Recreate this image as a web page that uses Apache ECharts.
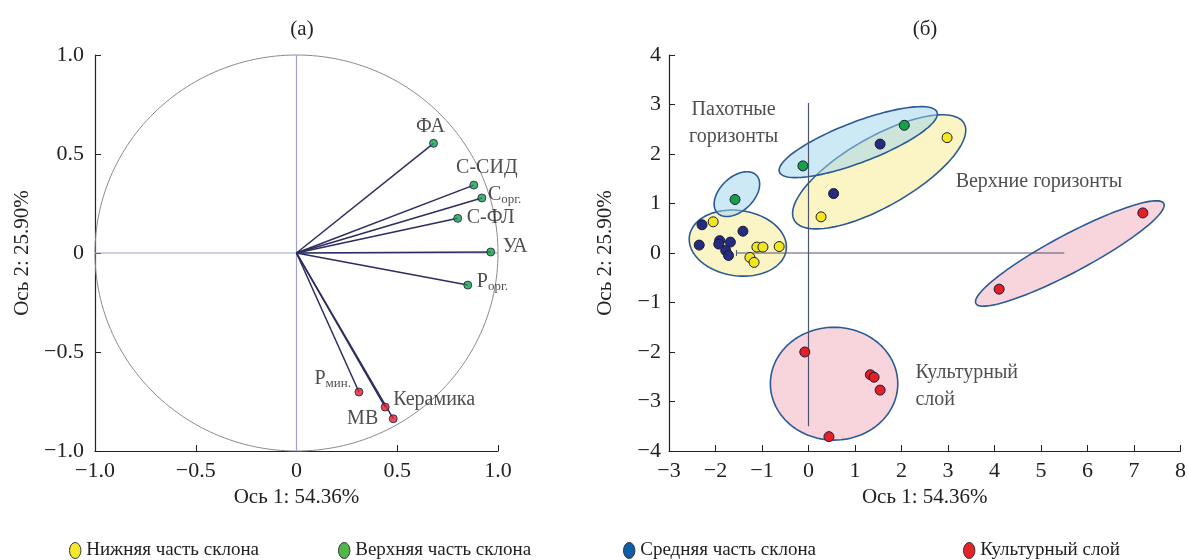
<!DOCTYPE html>
<html><head><meta charset="utf-8">
<script src="https://cdn.jsdelivr.net/npm/echarts@6/dist/echarts.min.js"></script>
<style>html,body{margin:0;padding:0;background:#fff}#c{width:1189px;height:560px}</style>
</head><body><div id="c"></div>
<script>
// ---------- (а) loadings ----------
const loadingNames = ['ФА', 'С-СИД', 'С{s|орг.}', 'С-ФЛ', 'УА', 'Р{s|орг.}', 'Р{s|мин.}', 'Керамика', 'МВ'];
const loadingX = [0.68, 0.88, 0.92, 0.80, 0.964, 0.85, 0.31, 0.44, 0.48];
const loadingY = [0.554, 0.343, 0.278, 0.175, 0.005, -0.162, -0.702, -0.778, -0.837];
const loadingKind = ['g', 'g', 'g', 'g', 'g', 'g', 'r', 'r', 'r'];
const ticksA = [-1.0, -0.5, 0, 0.5, 1.0];

// ---------- (б) scores ----------
const groupNames = ['Нижняя часть склона', 'Верхняя часть склона', 'Средняя часть склона', 'Культурный слой'];
const lowerX = [-2.05, -1.11, -0.98, -0.63, -1.26, -1.17, 2.98, 0.27];
const lowerY = [0.63, 0.12, 0.12, 0.13, -0.09, -0.19, 2.33, 0.73];
const upperX = [-1.58, -0.12, 2.06];
const upperY = [1.08, 1.76, 2.58];
const middleX = [-2.29, -2.35, -1.91, -1.93, -1.68, -1.78, -1.72, -1.41, 1.54, 0.54];
const middleY = [0.57, 0.16, 0.25, 0.18, 0.22, 0.05, -0.05, 0.44, 2.20, 1.20];
const cultX = [7.19, 4.10, -0.08, 1.33, 1.41, 1.54, 0.44];
const cultY = [0.81, -0.73, -2.00, -2.46, -2.51, -2.77, -3.71];

// ellipses: centre, major half-vector, minor half-length (data units)
const ellCX = [-1.52, -1.54, 1.52, 1.07, 5.62, 0.55];
const ellCY = [0.20, 1.19, 1.64, 2.24, -0.01, -2.64];
const ellUX = [1.04, 0.42, 1.825, 1.694, 2.02, 1.37];
const ellUY = [-0.14, 0.38, 0.98, 0.606, 1.01, 0.0];
const ellB  = [0.66, 0.34, 0.70, 0.41, 0.38, 1.14];
const ellKind = ['y', 'b', 'y', 'b', 'p', 'p'];

const crossV = [[0, -3.5], [0, 3.03]];
const crossH = [[-1.55, 0], [5.5, 0]];

const noteText = ['Пахотные\nгоризонты', 'Верхние горизонты', 'Культурный\nслой'];
const noteX = [-1.61, 5.10, 2.30];
const noteY = [2.63, 1.43, -2.70];
const ticksBX = [-3, -2, -1, 0, 1, 2, 3, 4, 5, 6, 7, 8];
const ticksBY = [-4, -3, -2, -1, 0, 1, 2, 3, 4];

// ---------- styles ----------
const FONT = 'Liberation Serif';
const loadLabelStyle = [
  {align: 'center', off: [-3, -17]},
  {align: 'center', off: [13, -17]},
  {align: 'left', off: [6, -3]},
  {align: 'left', off: [9, -1]},
  {align: 'left', off: [12, -5]},
  {align: 'left', off: [9, -3]},
  {align: 'right', off: [-8, -13]},
  {align: 'left', off: [8, -7]},
  {align: 'right', off: [-15, 0]}
];
const ellFill = {y: 'rgba(248,236,140,0.5)', b: 'rgba(158,212,238,0.5)', p: 'rgba(241,170,187,0.5)'};
const ptColor = ['#f2e71c', '#15a04a', '#262b82', '#e3202a'];
const legColor = ['#f3e92a', '#52b748', '#0b5fa8', '#e52228'];
const legLeft = [64, 333, 618, 958];

const minusFmt = (d) => (v) => v === 0 ? '0' : (v < 0 ? '\u2212' : '') + Math.abs(v).toFixed(d);

const chart = echarts.init(document.getElementById('c'));

const axisCommon = {
  axisLine: {show: true, onZero: false, lineStyle: {color: '#222', width: 1.2}},
  axisTick: {show: true, inside: true, length: 6, lineStyle: {color: '#222'}},
  splitLine: {show: false},
  axisLabel: {fontFamily: FONT, fontSize: 22, color: '#222'},
  nameTextStyle: {fontFamily: FONT, fontSize: 21, color: '#222'},
  nameLocation: 'middle'
};

const rich = {s: {fontFamily: FONT, fontSize: 13, color: '#222', verticalAlign: 'bottom', padding: [9, 0, 0, 0]}};

function ellipseRender(params, api) {
  const i = params.dataIndex;
  const c = api.coord([ellCX[i], ellCY[i]]);
  const e = api.coord([ellCX[i] + ellUX[i], ellCY[i] + ellUY[i]]);
  const mx = e[0] - c[0], my = e[1] - c[1];
  const L = Math.hypot(mx, my);
  const nx = -my / L, ny = mx / L;
  const b = api.size([0, ellB[i]])[1];
  const pts = [];
  for (let k = 0; k < 120; k++) {
    const t = k / 120 * Math.PI * 2;
    pts.push([c[0] + Math.cos(t) * mx + Math.sin(t) * b * nx, c[1] + Math.cos(t) * my + Math.sin(t) * b * ny]);
  }
  return {type: 'polygon', shape: {points: pts}, style: {fill: ellFill[ellKind[i]], stroke: '#2b5a94', lineWidth: 1.6}};
}

function circleRender(params, api) {
  const pts = [];
  for (let k = 0; k < 240; k++) {
    const t = k / 240 * Math.PI * 2;
    pts.push(api.coord([Math.cos(t), Math.sin(t)]));
  }
  return {type: 'polygon', shape: {points: pts}, style: {fill: 'none', stroke: '#8a8a8a', lineWidth: 1}};
}

function vectorRender(params, api) {
  const i = params.dataIndex;
  const o = api.coord([0, 0]);
  const p = api.coord([loadingX[i], loadingY[i]]);
  return {type: 'line', shape: {x1: o[0], y1: o[1], x2: p[0], y2: p[1]}, style: {stroke: '#2d2c5e', lineWidth: 1.5}};
}

function hTickRender(params, api) {
  const p = api.coord(crossH[0]);
  return {type: 'line', shape: {x1: p[0], y1: p[1] - 3, x2: p[0], y2: p[1] + 3}, style: {stroke: '#4d566c', lineWidth: 1}};
}

const scoreSets = [[lowerX, lowerY], [upperX, upperY], [middleX, middleY], [cultX, cultY]];

const legends = groupNames.map((n, i) => ({
  data: [{name: n, itemStyle: {color: legColor[i], borderColor: '#333', borderWidth: 1}}],
  left: legLeft[i], top: 536,
  icon: 'path://M0,1.4 A1,1.4 0 1,1 2,1.4 A1,1.4 0 1,1 0,1.4 Z',
  itemWidth: 12, itemHeight: 16, itemGap: 6,
  textStyle: {fontFamily: FONT, fontSize: 19, color: '#222'},
  selectedMode: false
}));

chart.setOption({
  animation: false,
  title: [
    {text: '(а)', left: 297, top: 14, textAlign: 'center', textStyle: {fontFamily: FONT, fontSize: 21, fontWeight: 'normal', color: '#222'}},
    {text: '(б)', left: 920, top: 14, textAlign: 'center', textStyle: {fontFamily: FONT, fontSize: 21, fontWeight: 'normal', color: '#222'}}
  ],
  legend: legends,
  grid: [
    {left: 95, top: 55, width: 403, height: 396},
    {left: 669, top: 55, width: 513, height: 396}
  ],
  xAxis: [
    Object.assign({}, axisCommon, {gridIndex: 0, type: 'value', min: -1, max: 1, interval: 0.5, name: 'Ось 1: 54.36%', nameGap: 28,
      axisLabel: Object.assign({}, axisCommon.axisLabel, {margin: 9, formatter: minusFmt(1)})}),
    Object.assign({}, axisCommon, {gridIndex: 1, type: 'value', min: -3, max: 8, interval: 1, name: 'Ось 1: 54.36%', nameGap: 36,
      axisLabel: Object.assign({}, axisCommon.axisLabel, {margin: 9, formatter: minusFmt(0)})})
  ],
  yAxis: [
    Object.assign({}, axisCommon, {gridIndex: 0, type: 'value', min: -1, max: 1, interval: 0.5, name: 'Ось 2: 25.90%', nameGap: 62,
      axisLabel: Object.assign({}, axisCommon.axisLabel, {margin: 11, formatter: minusFmt(1)})}),
    Object.assign({}, axisCommon, {gridIndex: 1, type: 'value', min: -4, max: 4, interval: 1, name: 'Ось 2: 25.90%', nameGap: 53,
      axisLabel: Object.assign({}, axisCommon.axisLabel, {margin: 8, formatter: minusFmt(0)})})
  ],
  series: [
    // (а)
    {type: 'line', xAxisIndex: 0, yAxisIndex: 0, data: [[0, -1], [0, 1]], symbol: 'none', lineStyle: {color: '#a0a0c8', width: 1.2}, silent: true, z: 1},
    {type: 'line', xAxisIndex: 0, yAxisIndex: 0, data: [[-1, 0], [1, 0]], symbol: 'none', lineStyle: {color: '#a0a0c8', width: 1.2}, silent: true, z: 1},
    {type: 'custom', xAxisIndex: 0, yAxisIndex: 0, data: [[0, 0]], renderItem: circleRender, silent: true, z: 1},
    {type: 'custom', xAxisIndex: 0, yAxisIndex: 0, data: loadingX.map((x, i) => [x, loadingY[i]]), renderItem: vectorRender, silent: true, z: 2},
    {type: 'scatter', xAxisIndex: 0, yAxisIndex: 0, z: 3, symbolSize: 8,
      data: loadingX.map((x, i) => ({
        value: [x, loadingY[i]],
        itemStyle: {color: loadingKind[i] === 'g' ? '#16a04a' : '#e3202a', borderColor: '#1a1a40', borderWidth: 1},
        label: {show: true, formatter: loadingNames[i], position: 'inside', align: loadLabelStyle[i].align, verticalAlign: 'middle',
          offset: loadLabelStyle[i].off, fontFamily: FONT, fontSize: 20, color: '#222', rich: rich}
      }))},
    // (б)
    {type: 'custom', xAxisIndex: 1, yAxisIndex: 1, data: ellCX.map((x, i) => [x, ellCY[i]]), renderItem: ellipseRender, silent: true, z: 1},
    {type: 'line', xAxisIndex: 1, yAxisIndex: 1, data: crossV, symbol: 'none', lineStyle: {color: '#4d566c', width: 1.2}, silent: true, z: 2},
    {type: 'line', xAxisIndex: 1, yAxisIndex: 1, data: crossH, symbol: 'none', lineStyle: {color: '#4d566c', width: 1.2}, silent: true, z: 2},
    {type: 'custom', xAxisIndex: 1, yAxisIndex: 1, data: [crossH[0]], renderItem: hTickRender, silent: true, z: 2},
    ...scoreSets.map((s, g) => ({
      type: 'scatter', name: groupNames[g], xAxisIndex: 1, yAxisIndex: 1, z: 3, symbolSize: 10,
      itemStyle: {color: ptColor[g], borderColor: '#1a1a30', borderWidth: 1, opacity: 1},
      data: s[0].map((x, i) => [x, s[1][i]])
    })),
    {type: 'scatter', xAxisIndex: 1, yAxisIndex: 1, z: 4, symbolSize: 0, silent: true,
      data: noteX.map((x, i) => ({value: [x, noteY[i]],
        label: {show: true, formatter: noteText[i], position: 'inside', align: i === 0 ? 'center' : 'left', verticalAlign: 'middle',
          offset: i === 1 ? [-90, 0] : [0, 0],
          fontFamily: FONT, fontSize: 20, lineHeight: 27, color: '#222'}}))}
  ]
});
</script></body></html>
